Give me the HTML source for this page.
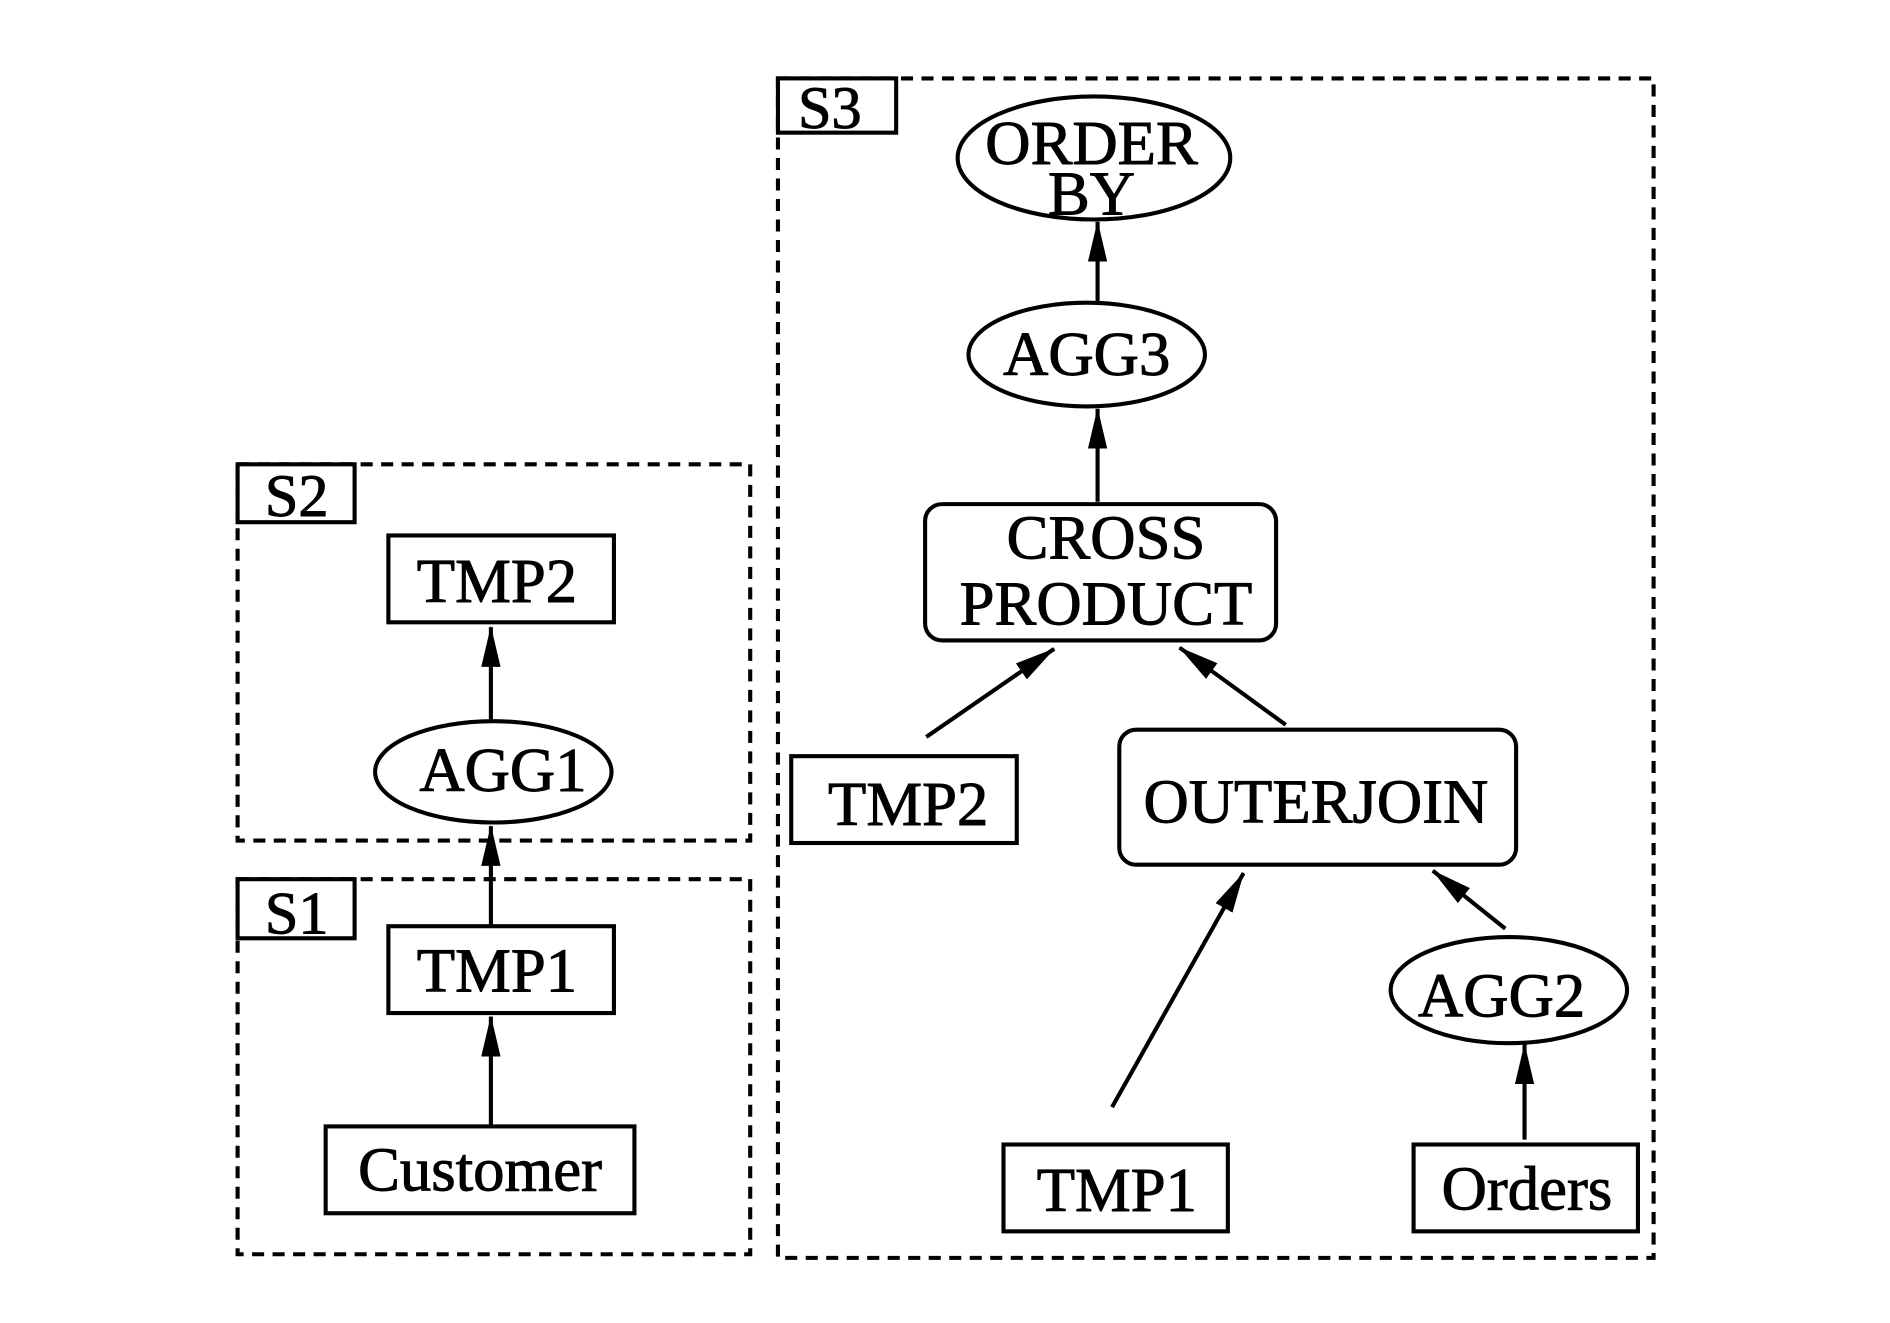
<!DOCTYPE html>
<html><head><meta charset="utf-8"><style>
html,body{margin:0;padding:0;background:#fff;}
svg{display:block;}
text{font-family:"Liberation Serif",serif;font-size:52px;fill:#000;stroke:#000;stroke-width:0.8;text-anchor:middle;}
.s{font-size:50px;}
</style></head><body>
<svg width="1890" height="1323" viewBox="0 0 1567 1097" preserveAspectRatio="none" xmlns="http://www.w3.org/2000/svg">
<defs>
<marker id="b" markerWidth="34" markerHeight="20" refX="33" refY="10" orient="auto" markerUnits="userSpaceOnUse"><path d="M0,2 L34,10 L0,18 z" fill="#000"/></marker></defs>
<g fill="none" stroke="#000" stroke-width="3.4" stroke-dasharray="10,7">
<rect x="645" y="65" width="726" height="978"/>
<rect x="197" y="385" width="425" height="312"/>
<rect x="197" y="729" width="425" height="311"/>
</g>
<g fill="#fff" stroke="#000" stroke-width="3.4">
<rect x="645" y="65" width="98" height="45"/>
<rect x="197" y="385" width="97" height="48"/>
<rect x="197" y="729" width="97" height="49"/>
<rect x="322" y="444" width="187" height="72"/>
<ellipse cx="409" cy="640" rx="98" ry="42"/>
<rect x="322" y="768" width="187" height="72"/>
<rect x="270" y="934" width="256" height="72"/>
<ellipse cx="907" cy="131" rx="113" ry="51"/>
<ellipse cx="901" cy="294" rx="98" ry="43"/>
<rect x="767" y="418" width="291" height="113" rx="14"/>
<rect x="656" y="627" width="187" height="72"/>
<rect x="928" y="605" width="329" height="112" rx="14"/>
<rect x="832" y="949" width="186" height="72"/>
<ellipse cx="1251" cy="821" rx="98" ry="44"/>
<rect x="1172" y="949" width="186" height="72"/>
</g>
<g stroke="#000" stroke-width="3.4" marker-end="url(#b)">
<line x1="407" y1="598" x2="407" y2="520"/>
<line x1="407" y1="768" x2="407" y2="685"/>
<line x1="407" y1="934" x2="407" y2="843"/>
<line x1="910" y1="250" x2="910" y2="184"/>
<line x1="910" y1="416" x2="910" y2="339"/>
<line x1="768" y1="611" x2="874" y2="538"/>
<line x1="1066" y1="601" x2="978" y2="537"/>
<line x1="922" y1="918" x2="1031" y2="724"/>
<line x1="1248" y1="770" x2="1188" y2="722"/>
<line x1="1264" y1="945" x2="1264" y2="866"/>
</g>
<text class="s" x="688" y="106">S3</text>
<text class="s" x="246" y="428">S2</text>
<text class="s" x="246" y="774">S1</text>
<text x="412" y="499">TMP2</text>
<text x="417" y="656">AGG1</text>
<text x="412" y="822">TMP1</text>
<text x="398" y="987">Customer</text>
<text x="905" y="136">ORDER</text>
<text x="905" y="178">BY</text>
<text x="901" y="311">AGG3</text>
<text x="917" y="463">CROSS</text>
<text x="917" y="518">PRODUCT</text>
<text x="753" y="684">TMP2</text>
<text x="1091" y="682">OUTERJOIN</text>
<text x="1245" y="843">AGG2</text>
<text x="926" y="1004">TMP1</text>
<text x="1266" y="1003">Orders</text>
</svg>
</body></html>
